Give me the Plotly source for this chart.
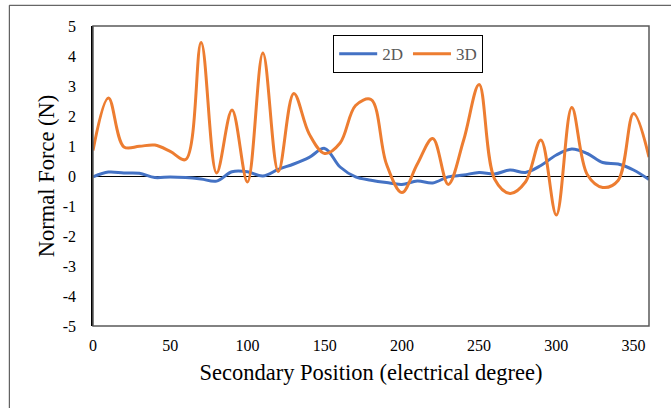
import plotly.graph_objects as go

# Secondary position in electrical degrees (sampled every 10 degrees)
position_deg = list(range(0, 361, 10))

# Normal force (N), 2D model
force_2d = [
    -0.03, 0.13, 0.10, 0.09, -0.05, -0.03, -0.05, -0.10, -0.17, 0.14,
    0.14, 0.00, 0.22, 0.40, 0.62, 0.92, 0.30, -0.03, -0.14, -0.22,
    -0.28, -0.17, -0.23, -0.03, 0.03, 0.12, 0.07, 0.20, 0.12, 0.35,
    0.70, 0.90, 0.75, 0.45, 0.40, 0.20, -0.12,
]

# Normal force (N), 3D model
force_3d = [
    0.85, 2.60, 0.97, 0.99, 1.03, 0.82, 0.55, 4.45, 0.10, 2.20,
    -0.20, 4.10, 0.15, 2.75, 1.40, 0.75, 1.10, 2.35, 2.55, 0.40,
    -0.55, 0.40, 1.25, -0.28, 1.20, 3.05, -0.10, -0.58, -0.20, 1.20,
    -1.30, 2.28, 0.05, -0.38, -0.15, 2.08, 0.63,
]

y_ticks = list(range(-5, 6))
y_tick_labels = [str(v) for v in y_ticks]   # plain hyphen for negatives
x_ticks = list(range(0, 351, 50))

SERIF = "Liberation Serif, Times New Roman, serif"

fig = go.Figure()
fig.add_trace(go.Scatter(
    x=position_deg, y=force_2d, name="2D", mode="lines",
    line=dict(color="#4472C4", width=3, shape="spline", smoothing=1.0),
))
fig.add_trace(go.Scatter(
    x=position_deg, y=force_3d, name="3D", mode="lines",
    line=dict(color="#ED7D31", width=3, shape="spline", smoothing=1.0),
))

fig.update_layout(
    width=671, height=408,
    margin=dict(l=92.7, r=22, t=25.7, b=82.3),
    paper_bgcolor="white", plot_bgcolor="white",
    font=dict(family=SERIF, color="#000000"),
    showlegend=True,
    legend=dict(
        orientation="h", x=0.432, y=0.906, xanchor="left", yanchor="middle",
        bordercolor="#000000", borderwidth=1, bgcolor="white",
        font=dict(family=SERIF, size=17, color="#595959"),
        itemwidth=38,
    ),
    xaxis=dict(
        range=[0, 360], tickvals=x_ticks, ticks="", showgrid=False,
        zeroline=False, showline=False,
        tickfont=dict(family=SERIF, size=16, color="#000000"),
        ticklabelstandoff=8,
        title=dict(text="Secondary Position (electrical degree)",
                   font=dict(family=SERIF, size=22.5, color="#000000"),
                   standoff=11),
    ),
    yaxis=dict(
        range=[-5, 5], tickvals=y_ticks, ticktext=y_tick_labels, ticks="",
        showgrid=False,
        zeroline=True, zerolinecolor="#000000", zerolinewidth=1,
        showline=True, linecolor="#000000", linewidth=1.5,
        tickfont=dict(family=SERIF, size=16, color="#000000"),
        ticklabelstandoff=12,
        title=dict(text="Normal Force (N)",
                   font=dict(family=SERIF, size=22.5, color="#000000"),
                   standoff=2),
    ),
)

# Plot-area frame
fig.add_shape(type="rect", xref="paper", yref="paper", x0=0, x1=1, y0=0, y1=1,
              line=dict(color="#595959", width=1.5), layer="above")
# Outer chart border (left and top edges fall inside the canvas)
fig.add_shape(type="rect", xref="paper", yref="paper",
              x0=-0.1505, x1=1.2, y0=-0.4, y1=1.069,
              line=dict(color="#404040", width=1), layer="below")

fig.write_html("out.html")
